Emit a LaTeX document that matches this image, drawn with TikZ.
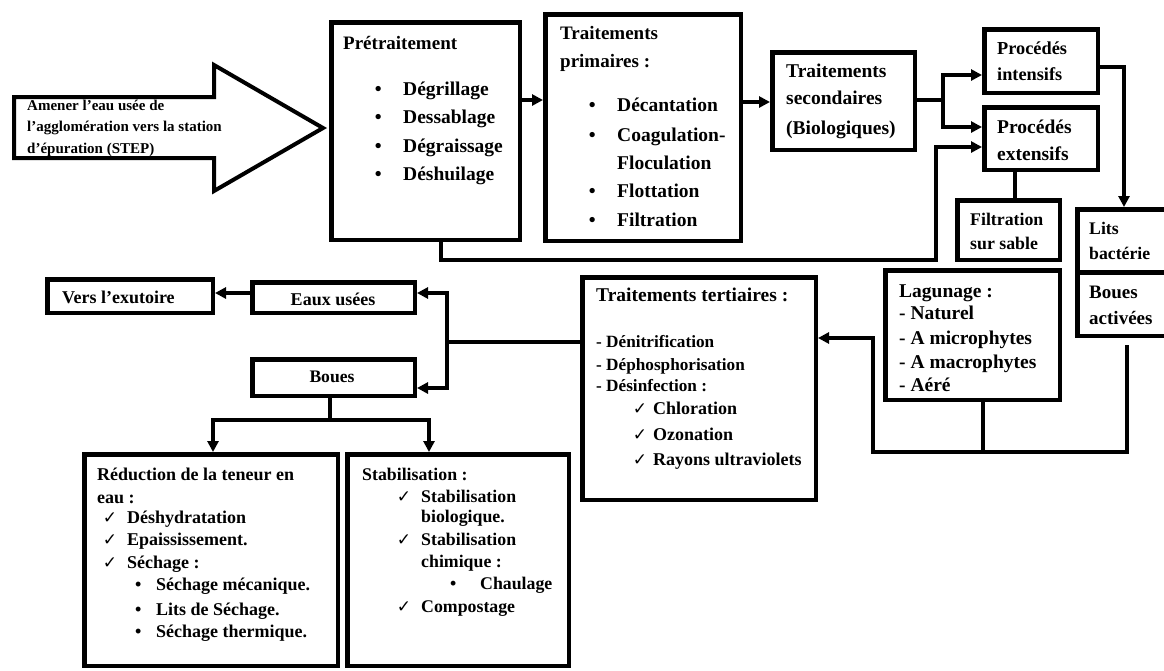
\documentclass[tikz,border=0pt]{standalone}
\usepackage{fontspec}
\setmainfont{Liberation Serif}
\newfontfamily\chkfont{DejaVu Sans}
\usetikzlibrary{arrows.meta,shadows}
\tikzset{
  box/.style={draw, line width=4.5pt, fill=white, inner sep=0pt,
    drop shadow={shadow xshift=2.5pt, shadow yshift=-2.5pt, opacity=0.25}},
  txt/.style={anchor=base west, inner sep=0pt, text=black},
  conn/.style={line width=3.5pt},
  arr/.style={conn, -{Triangle[length=11pt,width=11pt]}},
}
\newcommand\bx[5]{%
  \pgfmathsetmacro\bw{#4-#2-4.5}\pgfmathsetmacro\bh{#5-#3-4.5}%
  \node[box, anchor=north west, minimum width=\bw pt, minimum height=\bh pt] (#1) at (#2,#3) {};}
\newcommand\T[6][]{\node[txt, font=\bfseries\fontsize{#3pt}{#3pt}\selectfont, #1] (#2) at (#4,#5) {#6};}
\newcommand\B[1]{\llap{•\hspace{#1pt}}}
\newcommand\C[1]{\llap{{\chkfont\mdseries\fontsize{17pt}{17pt}\selectfont ✓}\hspace{#1pt}}}
\begin{document}
\begin{tikzpicture}[x=1pt, y=-1pt]
\useasboundingbox (0,0) rectangle (1164,670);
\clip (0,0) rectangle (1164,670);

% big input arrow
\draw[line width=4pt, fill=white] (14,97) -- (214,97) -- (214,65) -- (323,128) -- (214,191) -- (214,158) -- (14,158) -- cycle;
\T{in1}{15}{27}{110}{Amener l’eau usée de}
\T{in2}{15}{27}{131}{l’agglomération vers la station}
\T{in3}{15}{27}{153}{d’épuration (STEP)}

% boxes
\bx{pre}{329}{20}{522}{242}
\bx{prim}{543}{12}{743}{243}
\bx{sec}{770}{50}{917}{152}
\bx{int}{982}{27}{1100}{95}
\bx{ext}{982}{105}{1100}{172}
\bx{filt}{955}{198}{1062}{262}
\bx{lits}{1075}{207}{1185}{274}
\bx{bact}{1075}{270}{1185}{338}
\bx{lag}{883}{268}{1062}{402}
\bx{tert}{580}{275}{818}{502}
\bx{vers}{45}{277}{215}{315}
\bx{eaux}{250}{280}{417}{315}
\bx{boues}{250}{357}{417}{398}
\bx{red}{82}{452}{340}{668}
\bx{stab}{345}{452}{571}{668}

% texts
\T{preH}{19}{343}{49}{Prétraitement}
\T{pre1}{19.5}{403}{95}{\B{21.5}Dégrillage}
\T{pre2}{19.5}{403}{123}{\B{21.5}Dessablage}
\T{pre3}{19.5}{403}{152}{\B{21.5}Dégraissage}
\T{pre4}{19.5}{403}{180}{\B{21.5}Déshuilage}

\T{primH1}{19}{560}{39}{Traitements}
\T{primH2}{19}{560}{67}{primaires :}
\T{prim1}{19.5}{617}{111}{\B{21.5}Décantation}
\T{prim2}{19.5}{617}{141}{\B{21.5}Coagulation-}
\T{prim3}{19.5}{617}{169}{Floculation}
\T{prim4}{19.5}{617}{197}{\B{21.5}Flottation}
\T{prim5}{19.5}{617}{226}{\B{21.5}Filtration}

\T{sec1}{19.5}{786}{77}{Traitements}
\T{sec2}{19.5}{786}{104}{secondaires}
\T{sec3}{19.5}{786}{134}{(Biologiques)}

\T{int1}{18.3}{997}{54}{Procédés}
\T{int2}{18.3}{997}{80}{intensifs}
\T{ext1}{19.5}{997}{133}{Procédés}
\T{ext2}{19.5}{997}{160}{extensifs}
\T{filt1}{17.8}{970}{225}{Filtration}
\T{filt2}{17.8}{970}{249}{sur sable}
\T{lits1}{17.7}{1089}{234}{Lits}
\T{lits2}{17.7}{1089}{259}{bactérie}
\T{bact1}{19}{1089}{298}{Boues}
\T{bact2}{19}{1089}{324}{activées}

\T{lag1}{19.5}{899}{297}{Lagunage :}
\T{lag2}{19.5}{899}{319}{- Naturel}
\T{lag3}{19.5}{899}{344}{- A microphytes}
\T{lag4}{19.5}{899}{368}{- A macrophytes}
\T{lag5}{19.5}{899}{391}{- Aéré}

\T{tertH}{19.5}{596}{301}{Traitements tertiaires :}
\T{tert1}{17.2}{596}{347.5}{- Dénitrification}
\T{tert2}{17.2}{596}{370.5}{- Déphosphorisation}
\T{tert3}{17.2}{596}{391.5}{- Désinfection :}
\T{tert4}{18}{653}{414}{\C{6}Chloration}
\T{tert5}{18}{653}{440}{\C{6}Ozonation}
\T{tert6}{18}{653}{465}{\C{6}Rayons ultraviolets}

\T{vers1}{18}{62}{303.5}{Vers l’exutoire}
\T[anchor=base]{eaux1}{18}{333}{305.5}{Eaux usées}
\T[anchor=base]{boues1}{17.6}{332}{382.5}{Boues}

\T{red1}{18}{97}{480.5}{Réduction de la teneur en}
\T{red2}{18}{97}{503.5}{eau :}
\T{red3}{18}{127}{523.5}{\C{10}Déshydratation}
\T{red4}{18}{127}{545.5}{\C{10}Epaississement.}
\T{red5}{18}{127}{568.5}{\C{10}Séchage :}
\T{red6}{18}{156}{590.5}{\B{14.8}Séchage mécanique.}
\T{red7}{18}{156}{615.5}{\B{14.8}Lits de Séchage.}
\T{red8}{18}{156}{637.5}{\B{14.8}Séchage thermique.}

\T{stab1}{17.8}{362}{480.5}{Stabilisation :}
\T{stab2}{17.8}{421}{502.5}{\C{10}Stabilisation}
\T{stab3}{17.8}{421}{522.5}{biologique.}
\T{stab4}{17.8}{421}{545.5}{\C{10}Stabilisation}
\T{stab5}{17.8}{421}{567.5}{chimique :}
\T{stab6}{17.8}{480}{589.5}{\B{23.8}Chaulage}
\T{stab7}{17.8}{421}{612.5}{\C{10}Compostage}

% connectors
\draw[arr] (pre.east |- 0,100) -- (prim.west |- 0,100);
\draw[arr] (prim.east |- 0,102) -- (sec.west |- 0,102);
\draw[arr] (sec.east |- 0,100) -| (943,75) -- (int.west |- 0,75);
\draw[arr] (943,100) |- (ext.west |- 0,127);
\draw[arr] (pre.south -| 441,0) -- (441,260) -- (936,260) |- (ext.west |- 0,147);
\draw[arr] (int.east |- 0,67) -| (lits.north -| 1124,0);
\draw[conn] (ext.south -| 1015,0) -- (filt.north -| 1015,0);
\draw[conn] (lag.south -| 983,0) -- (983,452);
\draw[arr, shorten <=7pt] (bact.south -| 1127,0) -- (1127,452) -- (873,452) -- (873,338) -- (tert.east |- 0,338);
\draw[arr] (tert.west |- 0,342) -| (447,293) -- (eaux.east |- 0,293);
\draw[arr] (447,342) |- (boues.east |- 0,388);
\draw[arr] (eaux.west |- 0,293) -- (vers.east |- 0,293);
\draw[arr] (boues.south -| 330,0) -- (330,420) -| (red.north -| 213,0);
\draw[arr] (330,420) -| (stab.north -| 429,0);
\end{tikzpicture}
\end{document}
